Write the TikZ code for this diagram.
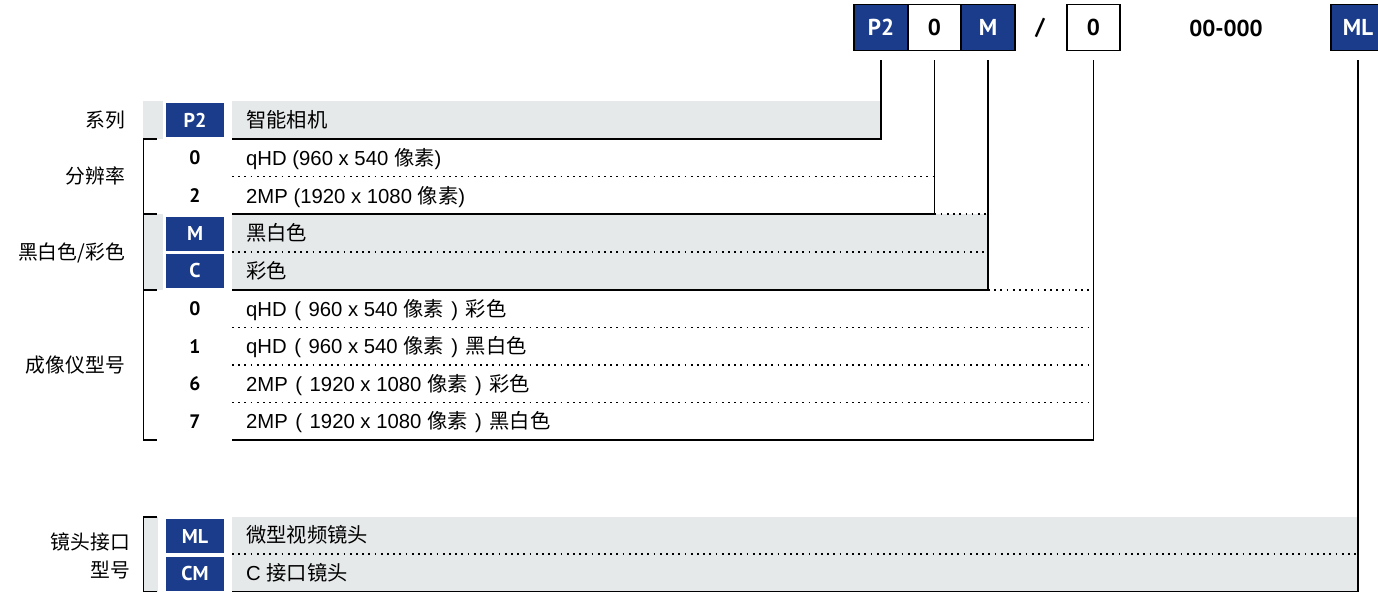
\documentclass[tikz,border=0pt]{standalone}
\usepackage{fontspec}
\setmainfont{Liberation Sans}
\newfontfamily\cjk{Noto Sans CJK SC}
\newfontfamily\codef{PT Sans}
\definecolor{cblue}{HTML}{1A3C8B}
\definecolor{cgray}{HTML}{E6E9EA}
\newcommand\zh[1]{{\cjk #1}}
\newcommand\lp{\hspace{7.5pt}(\hspace{7.5pt}}
\newcommand\rp{\hspace{7.5pt})\hspace{7.5pt}}
\tikzset{
  topbox/.style={draw=black, line width=1.8pt, minimum width=53.5pt, minimum height=46pt, inner sep=0pt, font=\codef\bfseries\fontsize{23}{23}\selectfont},
  topblue/.style={topbox, fill=cblue, text=white},
  topwhite/.style={topbox, fill=white, text=black},
  toptext/.style={inner sep=0pt, font=\codef\bfseries\fontsize{23}{23}\selectfont},
  codebox/.style={fill=cblue, text=white, minimum width=58pt, minimum height=34pt, inner sep=0pt, font=\codef\bfseries\fontsize{20}{20}\selectfont},
  codenum/.style={inner sep=0pt, font=\codef\bfseries\fontsize{19.5}{20}\selectfont},
  rowtext/.style={anchor=west, inner sep=0pt, text height=14.5pt, text depth=0pt, font=\fontsize{20.3}{21}\selectfont},
  leftlab/.style={anchor=east, inner sep=0pt, text height=14.5pt, text depth=0pt, font=\cjk\fontsize{19.8}{20}\selectfont},
  conn/.style={line width=1.8pt},
  sepline/.style={line width=1.7pt, dash pattern=on 1.7pt off 4.5pt},
}
\begin{document}
\begin{tikzpicture}[x=1pt,y=-1pt]
\useasboundingbox[fill=white] (0,0) rectangle (1378,593);

% gray bands
\fill[cgray] (232,101) rectangle (881,139);
\fill[cgray] (143,101) rectangle (163,139);
\fill[cgray] (232,214) rectangle (987.5,290);
\fill[cgray] (143,214) rectangle (163,290);
\fill[cgray] (232,517) rectangle (1358,592);
\fill[cgray] (143,517) rectangle (158,592);

% top code boxes
\node[topblue]  (tP2) at (881,27.5) {P2};
\node[topwhite] (tR)  at (934.5,27.5) {0};
\node[topblue]  (tM)  at (988,27.5) {M};
\node[toptext]  (tS)  at (1040,28) {/};
\node[topwhite] (tI)  at (1093.5,27.5) {0};
\node[toptext]  (tX)  at (1226,28) {00-000};
\node[topblue]  (tL)  at (1358,27.5) {ML};

% connector end points
\coordinate (eP2) at (232,139);
\coordinate (eR)  at (232,214);
\coordinate (eM)  at (232,290);
\coordinate (eI)  at (232,440);
\coordinate (eL)  at (232,591.5);

% connectors
\draw[conn] ([yshift=-9pt]tP2.south) |- (eP2);
\draw[conn] ([yshift=-9pt]tR.south) |- (eR);
\draw[conn] ([yshift=-9pt]tM.south) |- (eM);
\draw[conn] ([yshift=-9pt]tI.south) |- (eI);
\draw[conn] ([yshift=-9pt]tL.south) |- (eL);

% dotted separators
\draw[sepline] (232,176.5) -- (934.5,176.5);
\draw[sepline] (934.5,214) -- (988,214);
\draw[sepline] (232,252) -- (988,252);
\draw[sepline] (988,290) -- (1093.5,290);
\draw[sepline] (232,327.5) -- (1093.5,327.5);
\draw[sepline] (232,365) -- (1093.5,365);
\draw[sepline] (232,402.5) -- (1093.5,402.5);
\draw[sepline] (232,554) -- (1358,554);

% brackets
\draw[conn] (157,139) -- (143.5,139) -- (143.5,440) -- (157,440);
\draw[conn] (143.5,214) -- (157,214);
\draw[conn] (143.5,290) -- (157,290);
\draw[conn] (157,517) -- (143.5,517) -- (143.5,591.5) -- (157,591.5);

% left labels
\node[leftlab] (lS) at (125,120) {系列};
\node[leftlab] (lR) at (125,176.5) {分辨率};
\node[leftlab] (lC) at (125,252) {黑白色/彩色};
\node[leftlab] (lI) at (125,365) {成像仪型号};
\node[leftlab] (lL1) at (130,542) {镜头接口};
\node[leftlab] (lL2) at (130,570) {型号};

% code column
\node[codebox] (cP2) at (195,120) {P2};
\node[codenum] (c0)  at (195,158) {0};
\node[codenum] (c2)  at (195,196) {2};
\node[codebox] (cM)  at (195,234) {M};
\node[codebox] (cC)  at (195,271) {C};
\node[codenum] (i0)  at (195,309) {0};
\node[codenum] (i1)  at (195,346.5) {1};
\node[codenum] (i6)  at (195,384) {6};
\node[codenum] (i7)  at (195,421.5) {7};
\node[codebox] (cML) at (195,536) {ML};
\node[codebox] (cCM) at (195,573.5) {CM};

% row texts
\node[rowtext] (rP2) at (246,120) {\zh{智能相机}};
\node[rowtext] (r0)  at (246,158) {qHD (960 x 540 \zh{像素})};
\node[rowtext] (r2)  at (246,196) {2MP (1920 x 1080 \zh{像素})};
\node[rowtext] (rM)  at (246,233) {\zh{黑白色}};
\node[rowtext] (rC)  at (246,271) {\zh{彩色}};
\node[rowtext] (ri0) at (246,309) {qHD\lp960 x 540 \zh{像素}\rp\zh{彩色}};
\node[rowtext] (ri1) at (246,346.5) {qHD\lp960 x 540 \zh{像素}\rp\zh{黑白色}};
\node[rowtext] (ri6) at (246,384) {2MP\lp1920 x 1080 \zh{像素}\rp\zh{彩色}};
\node[rowtext] (ri7) at (246,421.5) {2MP\lp1920 x 1080 \zh{像素}\rp\zh{黑白色}};
\node[rowtext] (rML) at (246,535.5) {\zh{微型视频镜头}};
\node[rowtext] (rCM) at (246,573) {C \zh{接口镜头}};
\end{tikzpicture}
\end{document}
